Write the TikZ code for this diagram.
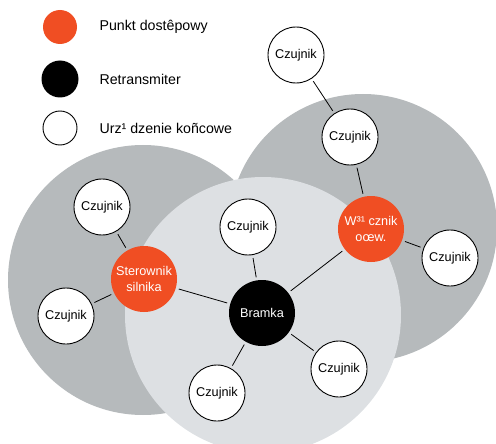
\documentclass[tikz,border=0pt]{standalone}
\usepackage{fontspec}
\setmainfont{Liberation Sans}
\usetikzlibrary{positioning}

\definecolor{punkt}{HTML}{F04E23}
\definecolor{ciemny}{HTML}{B6BABC}
\definecolor{jasny}{HTML}{DDE0E3}

\begin{document}
\begin{tikzpicture}[x=1pt, y=-1pt,
  czujnik/.style={circle, draw=black, line width=0.9pt, fill=white, minimum size=56pt, inner sep=0pt, font=\fontsize{12.7}{14}\selectfont},
  dostep/.style={circle, fill=punkt, minimum size=66pt, inner sep=0pt, text=white, align=center, font=\fontsize{12.7}{16}\selectfont},
  retrans/.style={circle, fill=black, minimum size=66pt, inner sep=0pt, text=white, font=\fontsize{12.7}{14}\selectfont},
  legtext/.style={anchor=west, font=\fontsize{14.2}{16}\selectfont},
  link/.style={line width=0.8pt, shorten >=3pt, shorten <=3pt}]

\useasboundingbox (0,0) rectangle (496,444);

% Legend
\node[circle, fill=punkt, minimum size=34pt, inner sep=0pt] (legPunkt) at (60,27) {};
\node[legtext] (legPunktTxt) at (96,27) {Punkt dostêpowy};
\node[circle, fill=black, minimum size=37pt, inner sep=0pt] (legRetr) at (60,79) {};
\node[legtext] (legRetrTxt) at (96,79) {Retransmiter};
\node[circle, draw=black, line width=0.9pt, fill=white, minimum size=34pt, inner sep=0pt] (legUrz) at (60,128) {};
\node[legtext] (legUrzTxt) at (96,128) {Urz¹ dzenie koñcowe};

% Zones
\fill[ciemny] (143,280) circle (135pt);
\fill[ciemny] (363,228) circle (134pt);
\fill[jasny] (263,315) circle (138pt);

% Devices
\node[retrans] (bramka) at (262,313) {Bramka};
\node[dostep] (sterownik) at (144,279) {Sterownik\\silnika};
\node[dostep] (wlacznik) at (371,229) {W³¹ cznik\\oœw.};

\node[czujnik] (czA) at (102,207) {Czujnik};
\node[czujnik] (czB) at (66,316) {Czujnik};
\node[czujnik] (czC) at (248,227) {Czujnik};
\node[czujnik] (czD) at (217,393) {Czujnik};
\node[czujnik] (czE) at (339,369) {Czujnik};
\node[czujnik] (czF) at (450,258) {Czujnik};
\node[czujnik] (czG) at (350,137) {Czujnik};
\node[czujnik] (czH) at (296,55) {Czujnik};

% Links
\draw[link] (czA) -- (sterownik);
\draw[link] (czB) -- (sterownik);
\draw[link] (sterownik) -- (bramka);
\draw[link] (czC) -- (bramka);
\draw[link] (czD) -- (bramka);
\draw[link] (czE) -- (bramka);
\draw[link] (bramka) -- (wlacznik);
\draw[link] (wlacznik) -- (czG);
\draw[link] (wlacznik) -- (czF);
\draw[link] (czG) -- (czH);

\end{tikzpicture}
\end{document}
